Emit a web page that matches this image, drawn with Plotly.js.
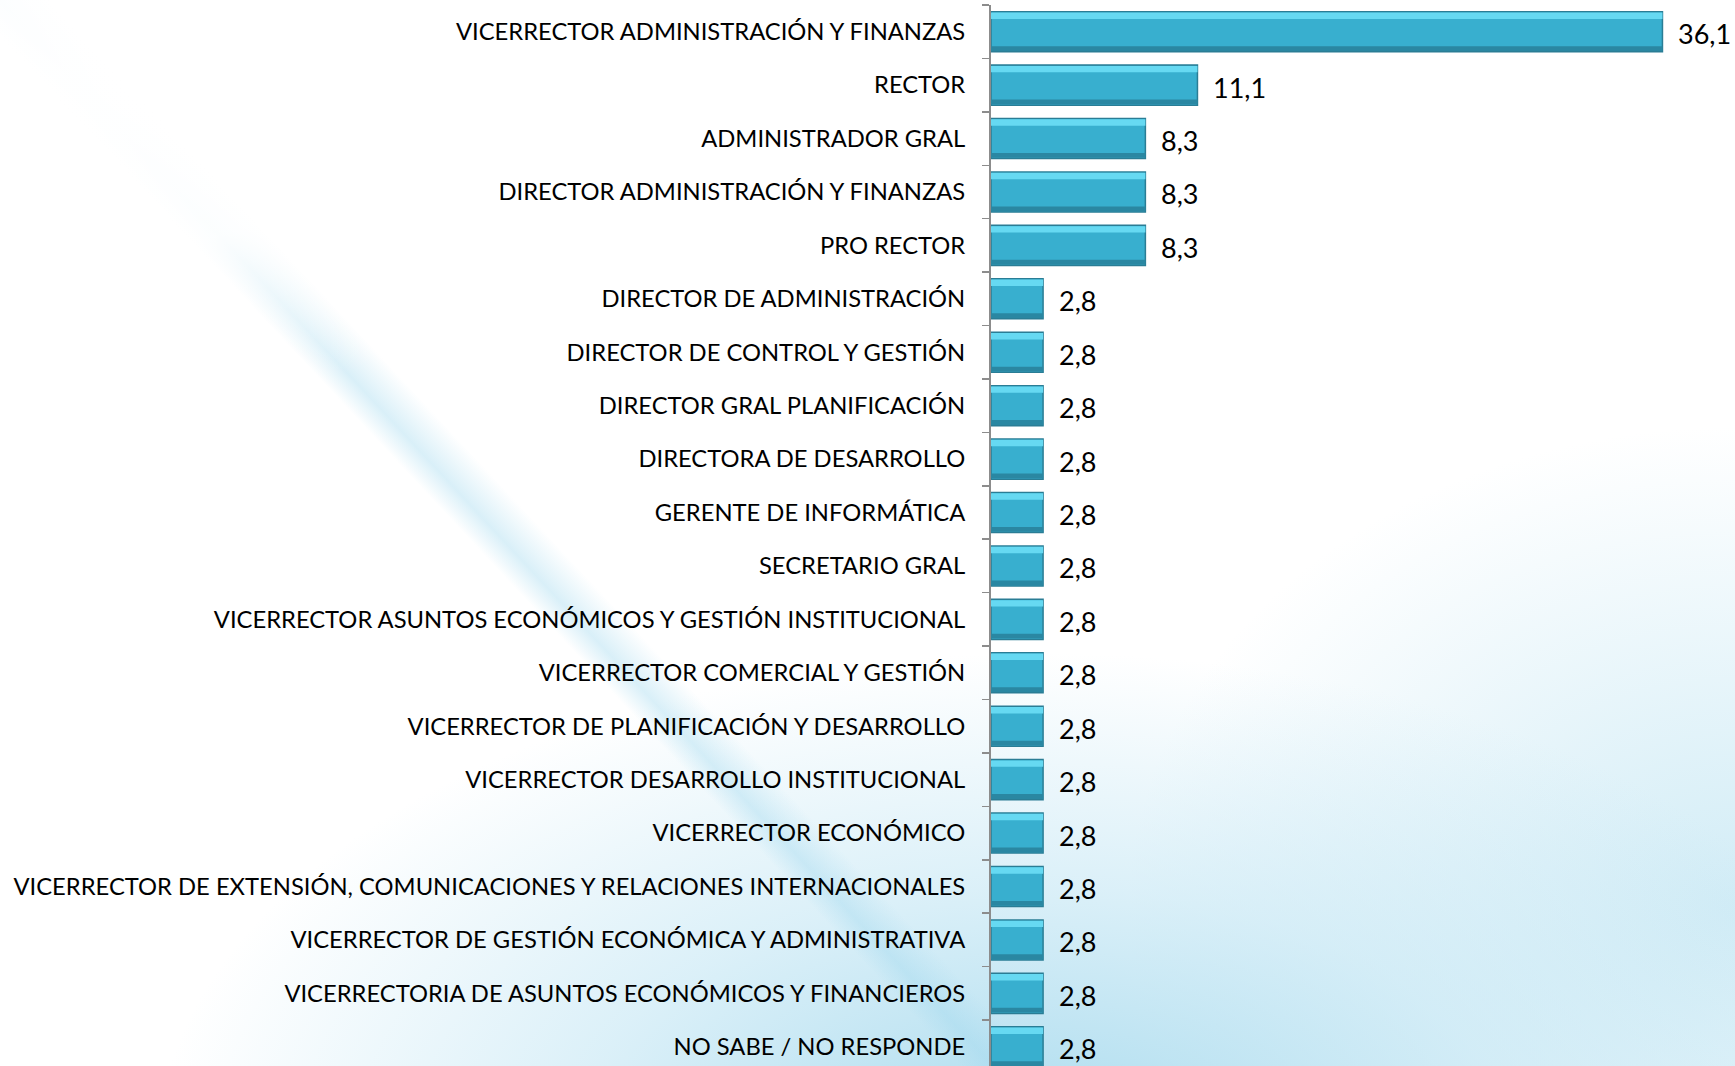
<!DOCTYPE html>
<html>
<head>
<meta charset="utf-8">
<script src="https://cdn.plot.ly/plotly-3.0.1.min.js"></script>
<style>
html, body { margin: 0; padding: 0; }
body {
  width: 1735px; height: 1066px; overflow: hidden;
  background:
    radial-gradient(ellipse 28% 30% at 8% 8%, rgba(255,255,255,1) 0%, rgba(255,255,255,0.9) 50%, rgba(255,255,255,0) 100%),
    linear-gradient(47deg, rgba(255,255,255,0) 0%, rgba(255,255,255,0) 35.2%, rgba(160,216,238,0.4) 36.4%, rgba(255,255,255,0) 38.2%, rgba(255,255,255,0) 100%),
    radial-gradient(ellipse 60% 55% at 60% 108%, rgba(160,215,236,0.9) 0%, rgba(195,230,244,0.6) 45%, rgba(255,255,255,0) 85%),
    radial-gradient(ellipse 35% 45% at 100% 85%, rgba(190,228,242,0.7) 0%, rgba(255,255,255,0) 100%),
    #ffffff;
}
#chart { width: 1735px; height: 1066px; }
</style>
</head>
<body>
<div id="chart"></div>
<script>
var categories = [
  "VICERRECTOR ADMINISTRACIÓN Y FINANZAS",
  "RECTOR",
  "ADMINISTRADOR GRAL",
  "DIRECTOR ADMINISTRACIÓN Y FINANZAS",
  "PRO RECTOR",
  "DIRECTOR DE ADMINISTRACIÓN",
  "DIRECTOR DE CONTROL Y GESTIÓN",
  "DIRECTOR GRAL PLANIFICACIÓN",
  "DIRECTORA DE DESARROLLO",
  "GERENTE DE INFORMÁTICA",
  "SECRETARIO GRAL",
  "VICERRECTOR ASUNTOS ECONÓMICOS Y GESTIÓN INSTITUCIONAL",
  "VICERRECTOR COMERCIAL Y GESTIÓN",
  "VICERRECTOR DE PLANIFICACIÓN Y DESARROLLO",
  "VICERRECTOR DESARROLLO INSTITUCIONAL",
  "VICERRECTOR ECONÓMICO",
  "VICERRECTOR DE EXTENSIÓN, COMUNICACIONES Y RELACIONES INTERNACIONALES",
  "VICERRECTOR DE GESTIÓN ECONÓMICA Y ADMINISTRATIVA",
  "VICERRECTORIA DE ASUNTOS ECONÓMICOS Y FINANCIEROS",
  "NO SABE / NO RESPONDE"
];
var values = [36.1, 11.1, 8.3, 8.3, 8.3, 2.8, 2.8, 2.8, 2.8, 2.8, 2.8, 2.8, 2.8, 2.8, 2.8, 2.8, 2.8, 2.8, 2.8, 2.8];

var labels = values.map(function (v) { return v.toFixed(1).replace('.', ','); });
var FONT = "Lato, 'Open Sans', sans-serif";

var main = {
  type: 'bar', orientation: 'h',
  x: values, y: categories,
  width: 0.75,
  marker: { color: '#38afcf', line: { color: '#2a7d95', width: 1.5 } },
  hoverinfo: 'x+y'
};
var highlight = {
  type: 'bar', orientation: 'h',
  x: values, y: categories,
  width: 0.12, offset: -0.36,
  marker: { color: '#66d9f2', line: { width: 0 } },
  hoverinfo: 'skip'
};
var shade = {
  type: 'bar', orientation: 'h',
  x: values, y: categories,
  width: 0.09, offset: 0.27,
  marker: { color: '#2a87a2', line: { width: 0 } },
  hoverinfo: 'skip'
};

var annotations = values.map(function (v, i) {
  return {
    x: v, y: categories[i], xref: 'x', yref: 'y',
    text: labels[i], showarrow: false,
    xanchor: 'left', yanchor: 'middle',
    xshift: 14, yshift: -2,
    font: { family: FONT, size: 27, color: '#000000' }
  };
});

var layout = {
  width: 1735, height: 1066,
  margin: { l: 991, r: 0, t: 5, b: 0 },
  paper_bgcolor: 'rgba(0,0,0,0)',
  plot_bgcolor: 'rgba(0,0,0,0)',
  barmode: 'overlay',
  showlegend: false,
  font: { family: FONT, size: 24, color: '#000000' },
  annotations: annotations,
  xaxis: {
    range: [0, 40],
    visible: false,
    showgrid: false, zeroline: false
  },
  yaxis: {
    type: 'category',
    range: [19.36, -0.5],
    showline: true, linecolor: '#8c8c8c', linewidth: 2,
    ticks: 'outside', ticklen: 7, tickcolor: '#8c8c8c', tickwidth: 1.5,
    tickson: 'boundaries',
    ticklabelstandoff: 19,
    showgrid: false, zeroline: false,
    tickfont: { family: FONT, size: 23.75, color: '#000000' }
  }
};

Plotly.newPlot('chart', [main, highlight, shade], layout, { displayModeBar: false, staticPlot: true });
</script>
</body>
</html>
